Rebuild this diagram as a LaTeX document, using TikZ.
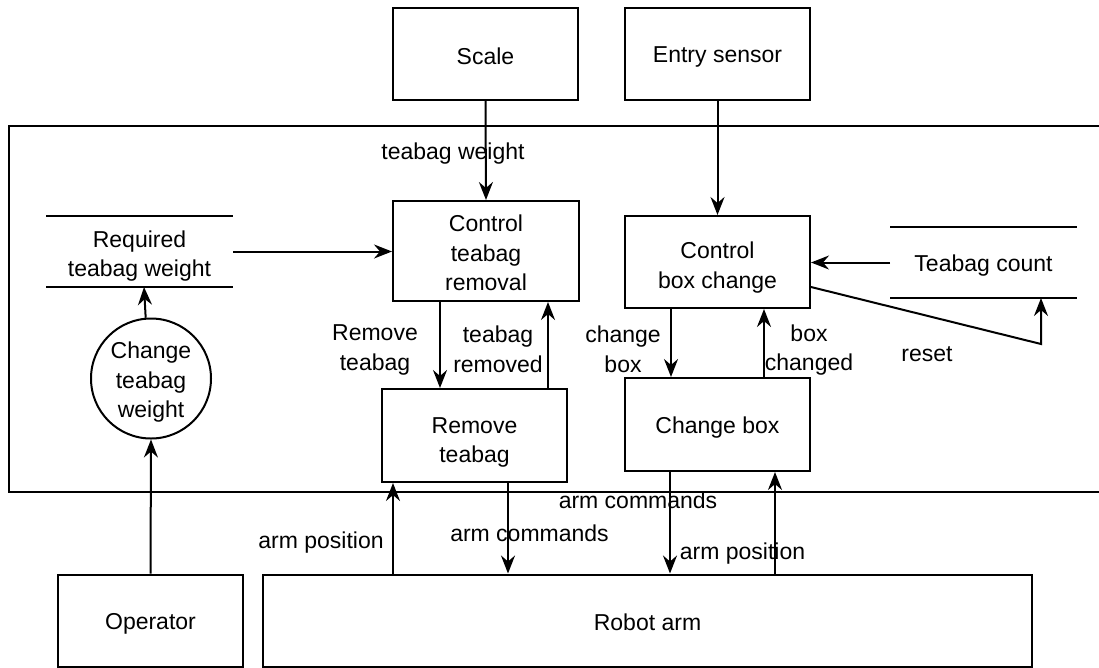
\documentclass[tikz,border=0pt]{standalone}
\usepackage{fontspec}
\setmainfont{Liberation Sans}
\usetikzlibrary{arrows.meta,calc}

% line strut that sits the text slightly low in its box
\newcommand{\lowstrut}{\rule[-1.5pt]{0pt}{23.5pt}}

\tikzset{
  base/.style={font=\fontsize{23}{29.5}\selectfont, align=center, inner sep=0pt,
    execute at begin node=\lowstrut, execute at end node=\lowstrut},
  proc/.style={base, draw, rectangle, minimum width=185pt, minimum height=92pt},
  bubble/.style={base, draw, circle, minimum size=120pt},
  store/.style={base, rectangle, minimum width=185pt, minimum height=69pt},
  lbl/.style={base},
  flow/.style={-{Stealth[length=18pt,width=14pt,inset=6pt]}},
}

\begin{document}
\begin{tikzpicture}[x=1pt, y=-1pt, line width=2pt, line join=miter]
\useasboundingbox (0,0) rectangle (1099,667);

% system boundary, open on the right
\draw (1110,126) -- (9,126) -- (9,492) -- (1110,492);

% external entities
\node[proc] (scale) at (485.5,54) {Scale};
\node[proc] (entry) at (717.5,54) {Entry sensor};
\node[proc] (operator) at (150.5,620.5) {Operator};
\node[proc, minimum width=769pt] (robot) at (647.5,620.5) {Robot arm};

% processes (multi-line captions set as their own nodes)
\node[proc, minimum width=186pt, minimum height=100pt] (ctr) at (486,251) {};
\node[lbl] (ctrtxt) at ($(ctr)+(0,2.5)$) {Control\\teabag\\removal};
\node[proc] (cbc) at (717.5,262) {};
\node[lbl] (cbctxt) at ($(cbc)+(0,5.5)$) {Control\\box change};
\node[proc, minimum height=93pt] (rt) at (474.5,435.5) {};
\node[lbl] (rttxt) at ($(rt)+(0,7)$) {Remove\\teabag};
\node[proc, minimum height=93pt] (cb) at (717.5,424.5) {Change box};
\node[bubble] (chg) at (151,378.5) {};
\node[lbl] (chgtxt) at ($(chg)+(0,4)$) {Change\\teabag\\weight};

% data stores
\node[store] (req) at (139.5,251.5) {};
\node[lbl] (reqtxt) at ($(req)+(0,4.5)$) {Required\\teabag weight};
\draw (req.north west) -- (req.north east);
\draw (req.south west) -- (req.south east);
\node[store] (count) at (983.5,262.5) {Teabag count};
\draw (count.north west) -- (count.north east);
\draw (count.south west) -- (count.south east);

% flows
\draw[flow] (scale.south) -- (ctr.north);
\draw[flow] (entry.south) -- (cbc.north);
\draw[flow] (req.east) -- (ctr.west |- req.east);
\draw[flow] (chg.95) -- ([xshift=4.5pt]req.south);
\draw[flow] (operator.north) -- (chg.south);

\draw[flow] ([xshift=-46pt]ctr.south) -- ([xshift=-46pt]ctr.south |- rt.north);
\draw[flow] ([xshift=62pt]ctr.south |- rt.north) -- ([xshift=62pt]ctr.south);
\draw[flow] ([xshift=-46.5pt]cbc.south) -- ([xshift=-46.5pt]cbc.south |- cb.north);
\draw[flow] ([xshift=46.5pt]cbc.south |- cb.north) -- ([xshift=46.5pt]cbc.south);

\draw[flow] (count.west) -- (cbc.east |- count.west);
\coordinate (rstart) at ($(cbc.east)+(0,25)$);
\coordinate (rbend) at ($(count.south)+(57.5,46)$);
\coordinate (rend) at ($(count.south)+(57.5,0)$);
\draw[flow] (rstart) -- (rbend) -- (rend);

% arm links
\coordinate (rtpos) at ($(rt.south west)+(12,0)$);
\coordinate (rtcmd) at ($(rt.south west)+(127,0)$);
\coordinate (cbcmd) at ($(cb.south west)+(46,0)$);
\coordinate (cbpos) at ($(cb.south west)+(151,0)$);
\draw[flow] (rtpos |- robot.north) -- (rtpos);
\draw[flow] (rtcmd) -- (rtcmd |- robot.north);
\draw[flow] (cbcmd) -- (cbcmd |- robot.north);
\draw[flow] (cbpos |- robot.north) -- (cbpos);

% flow labels
\node[lbl] (l1) at (453,151) {teabag weight};
\node[lbl] (l2) at (375,350) {Remove\\teabag};
\node[lbl] (l3) at (498,350) {teabag\\removed};
\node[lbl] (l4) at (623,350) {change\\box};
\node[lbl] (l5) at (809,350) {box\\changed};
\node[lbl] (l6) at (927,351) {reset};
\node[lbl] (l7) at (321,540) {arm position};
\node[lbl] (l8) at (529.5,531) {arm commands};
\node[lbl] (l9) at (638,498) {arm commands};
\node[lbl] (l10) at (742.5,551) {arm position};
\end{tikzpicture}
\end{document}
